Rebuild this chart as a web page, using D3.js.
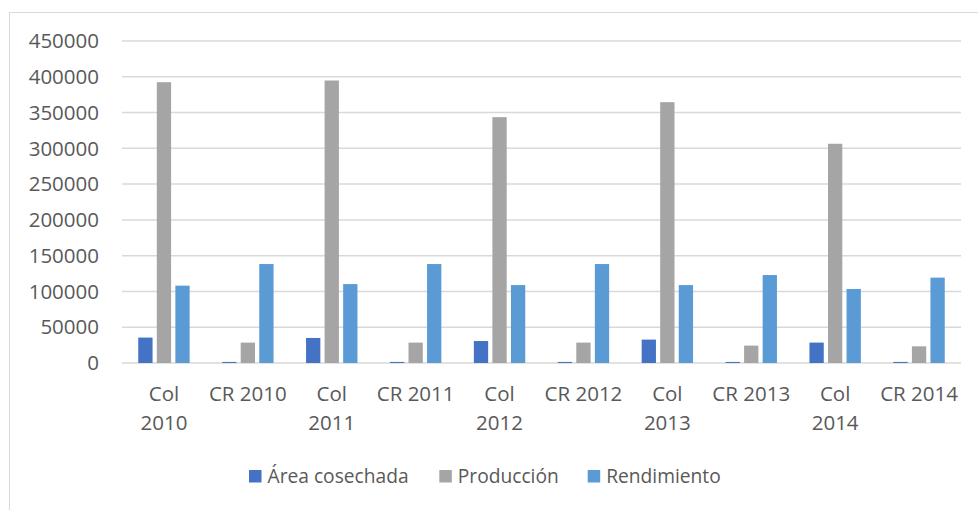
<!DOCTYPE html>
<html>
<head>
<meta charset="utf-8">
<script src="https://cdn.jsdelivr.net/npm/d3@7"></script>
<style>
  body { margin: 0; background: #fff; }
  svg text { font-family: "Open Sans", sans-serif; fill: #595959; }
</style>
</head>
<body>
<svg id="chart" width="978" height="510"></svg>
<script>
var categories = ["Col 2010", "CR 2010", "Col 2011", "CR 2011", "Col 2012", "CR 2012", "Col 2013", "CR 2013", "Col 2014", "CR 2014"];
var seriesNames = ["Área cosechada", "Producción", "Rendimiento"];
var area = [35500, 1500, 35000, 1500, 30700, 1500, 32700, 1500, 28500, 1500];
var produccion = [392400, 28500, 394800, 28500, 343600, 28500, 364500, 24300, 306400, 23300];
var rendimiento = [108100, 138300, 110300, 138300, 108900, 138300, 108900, 122900, 103400, 119300];
var yTicks = [0, 50000, 100000, 150000, 200000, 250000, 300000, 350000, 400000, 450000];
var colors = ["#4472C4", "#A5A5A5", "#5B9BD5"];

(function () {
  var series = [area, produccion, rendimiento];
  var svg = d3.select("#chart");

  // chart area border (runs off the right/bottom edges)
  svg.append("rect")
    .attr("x", 9.5).attr("y", 12.5)
    .attr("width", 1000).attr("height", 520)
    .attr("fill", "none")
    .attr("stroke", "#D9D9D9");

  var plotLeft = 122, plotRight = 961, plotTop = 41, plotBottom = 363;

  var x = d3.scaleBand().domain(categories).range([plotLeft, plotRight]);
  var y = d3.scaleLinear().domain([0, 450000]).range([plotBottom, plotTop]);

  // gridlines
  svg.append("g").selectAll("line").data(yTicks).enter().append("line")
    .attr("x1", plotLeft).attr("x2", plotRight)
    .attr("y1", function (d) { return y(d); })
    .attr("y2", function (d) { return y(d); })
    .attr("stroke", "#D9D9D9")
    .attr("stroke-width", 1.5);

  // y labels
  svg.append("g").selectAll("text").data(yTicks).enter().append("text")
    .attr("x", 99)
    .attr("y", function (d) { return y(d); })
    .attr("dy", "0.35em")
    .attr("text-anchor", "end")
    .style("font-size", "20.5px")
    .text(function (d) { return d; });

  // bars
  var barW = 14.3, step = 18.55;
  series.forEach(function (vals, s) {
    svg.append("g").selectAll("rect").data(vals).enter().append("rect")
      .attr("x", function (d, i) { return x(categories[i]) + x.bandwidth() / 2 + (s - 1) * step - barW / 2; })
      .attr("y", function (d) { return y(d); })
      .attr("width", barW)
      .attr("height", function (d) { return y(0) - y(d); })
      .attr("fill", colors[s]);
  });

  // category labels, "Col" ones wrap on two lines
  var xl = svg.append("g");
  categories.forEach(function (c) {
    var cx = x(c) + x.bandwidth() / 2;
    var lines = c.indexOf("Col") === 0 ? c.split(" ") : [c];
    lines.forEach(function (t, k) {
      xl.append("text")
        .attr("x", cx)
        .attr("y", 394 + k * 29)
        .attr("dy", "0.35em")
        .attr("text-anchor", "middle")
        .style("font-size", "20.5px")
        .text(t);
    });
  });

  // legend
  var legendX = [249, 439.3, 587.7];
  var lg = svg.append("g");
  seriesNames.forEach(function (n, s) {
    lg.append("rect")
      .attr("x", legendX[s]).attr("y", 470)
      .attr("width", 12.5).attr("height", 12.5)
      .attr("fill", colors[s]);
    lg.append("text")
      .attr("x", legendX[s] + 18.5)
      .attr("y", 476.5)
      .attr("dy", "0.35em")
      .style("font-size", "19.2px")
      .text(n);
  });
})();
</script>
</body>
</html>
